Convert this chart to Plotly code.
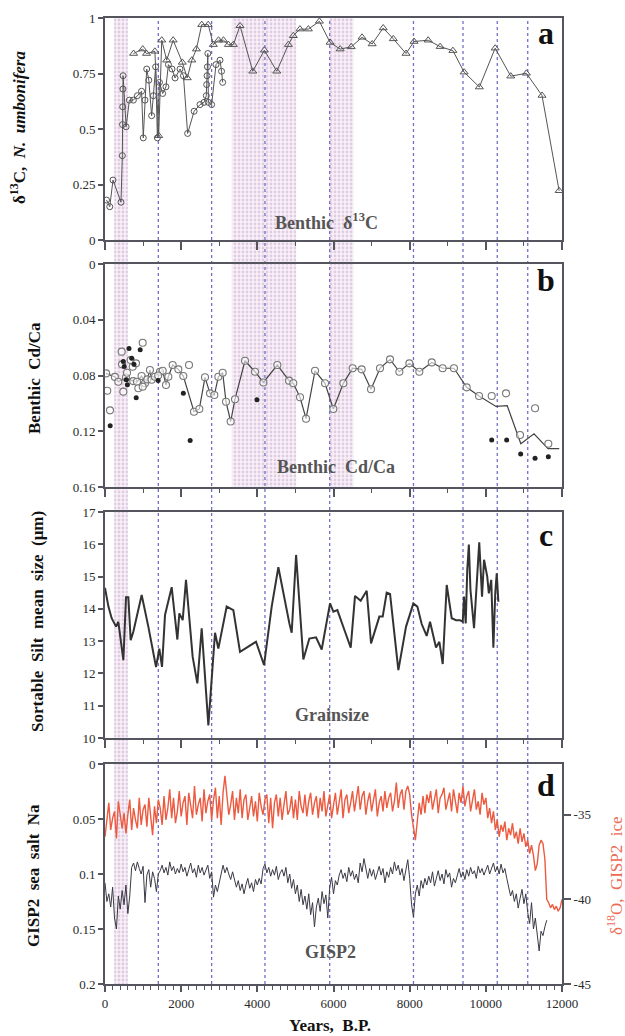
import plotly.graph_objects as go

FONT = "Liberation Serif"

# ---------------- data ----------------
# Panel a: benthic d13C (circles series and triangles series)
c13_circ_years = [40, 125, 210, 420, 455, 460, 465, 470, 475, 555, 640, 745, 850, 960, 1005,
                  1050, 1095, 1150, 1225, 1270, 1330, 1375, 1430, 1515, 1600, 1665, 1760, 1840,
                  1970, 2060, 2170, 2340, 2495, 2600, 2660, 2670, 2680, 2690, 2700, 2715, 2800,
                  2915, 3020, 3060, 3090]
c13_circ_vals = [0.18, 0.15, 0.27, 0.17, 0.38, 0.52, 0.60, 0.68, 0.74, 0.51, 0.63, 0.63, 0.65,
                 0.67, 0.46, 0.63, 0.77, 0.72, 0.56, 0.65, 0.78, 0.46, 0.71, 0.66, 0.69, 0.79,
                 0.77, 0.73, 0.77, 0.74, 0.48, 0.58, 0.61, 0.62, 0.65, 0.70, 0.74, 0.78, 0.84,
                 0.62, 0.61, 0.79, 0.81, 0.76, 0.71]
c13_tri_years = [750, 990, 1090, 1310, 1410, 1490, 1620, 1790, 2030, 2160, 2280, 2400, 2540,
                 2710, 2845, 2980, 3110, 3240, 3370, 3545, 3880, 4185, 4510, 4815, 4945, 5120,
                 5340, 5630, 5910, 6175, 6465, 6750, 7015, 7305, 7570, 7905, 8115, 8485, 8800,
                 9135, 9430, 9830, 10245, 10655, 11065, 11475, 11925]
c13_tri_vals = [0.84, 0.86, 0.84, 0.85, 0.47, 0.90, 0.81, 0.90, 0.80, 0.73, 0.81, 0.86, 0.97,
                0.97, 0.88, 0.90, 0.90, 0.88, 0.88, 0.965, 0.76, 0.855, 0.76, 0.88, 0.92, 0.95,
                0.95, 0.985, 0.89, 0.86, 0.87, 0.913, 0.883, 0.955, 0.906, 0.84, 0.894, 0.90,
                0.871, 0.853, 0.756, 0.689, 0.864, 0.738, 0.751, 0.651, 0.222]

# Panel b: benthic Cd/Ca
cd_line_years = [30, 260, 350, 550, 740, 840, 960, 1050, 1110, 1180, 1225, 1313, 1444, 1514,
                 1602, 1663, 1777, 1926, 2057, 2337, 2477, 2626, 2757, 2871, 2976, 3090, 3177,
                 3300, 3414, 3676, 3939, 4158, 4525, 4832, 4945, 5121, 5279, 5515, 5777, 5996,
                 6259, 6504, 6740, 6985, 7221, 7484, 7729, 7992, 8254, 8580, 8866, 9163, 9497,
                 9821, 10268, 10562, 10919, 11265, 11633, 11927]
cd_line_vals = [0.0785, 0.081, 0.0845, 0.0814, 0.084, 0.0845, 0.0804, 0.0856, 0.0828, 0.076,
                0.083, 0.0809, 0.0773, 0.0766, 0.0868, 0.0809, 0.0725, 0.0756, 0.0804, 0.106,
                0.104, 0.0813, 0.0928, 0.094, 0.0809, 0.078, 0.0988, 0.113, 0.097, 0.0694,
                0.0773, 0.085, 0.0725, 0.0837, 0.0856, 0.0956, 0.111, 0.0766, 0.0856, 0.104,
                0.0856, 0.0748, 0.0756, 0.0899, 0.0748, 0.0684, 0.0773, 0.0713, 0.0773, 0.0706,
                0.0748, 0.0748, 0.0885, 0.0947, 0.1022, 0.1017, 0.129, 0.1218, 0.1325, 0.1325]
cd_open_years = [60, 131, 438, 446, 481, 578, 674, 727, 814, 875, 990, 990, 1396, 2206,
                 10154, 10530, 10898, 11293, 11641]
cd_open_vals = [0.0909, 0.105, 0.0629, 0.072, 0.0916, 0.078, 0.0689, 0.0737, 0.0713, 0.0892,
                0.0565, 0.088, 0.080, 0.0725, 0.0947, 0.0928, 0.1227, 0.1035, 0.129]
cd_filled_years = [136, 480, 504, 560, 588, 630, 700, 760, 819, 924, 1396, 2057, 2236, 3990,
                   10154, 10547, 10915, 11292, 11641]
cd_filled_vals = [0.116, 0.070, 0.0735, 0.083, 0.0867, 0.0607, 0.0677, 0.072, 0.096, 0.0616,
                  0.0836, 0.0928, 0.1266, 0.0974, 0.1263, 0.1263, 0.1363, 0.1394, 0.1383]

# Panel c: sortable silt grain size
gs_years = [0, 90, 175, 290, 350, 482, 552, 613, 674, 744, 963, 1138, 1340, 1427, 1497, 1576,
            1751, 1900, 1952, 2040, 2127, 2302, 2425, 2539, 2714, 2889, 2976, 3195, 3370, 3545,
            3965, 4176, 4377, 4552, 4841, 4902, 5018, 5208, 5366, 5541, 5690, 5909, 5997, 6102,
            6303, 6452, 6565, 6714, 6872, 6986, 7204, 7292, 7397, 7485, 7703, 7905, 8097, 8202,
            8316, 8447, 8535, 8692, 8780, 8868, 8973, 9104, 9218, 9323, 9393, 9428, 9472, 9512,
            9554, 9596, 9690, 9827, 9900, 9953, 10037, 10079, 10142, 10198, 10247, 10286, 10329]
gs_vals = [14.65, 14.07, 13.71, 13.45, 13.6, 12.41, 14.36, 14.36, 13.03, 13.29, 14.43, 13.45,
           12.2, 12.77, 12.2, 13.81, 14.67, 13.05, 13.86, 13.65, 14.9, 12.51, 11.69, 13.4, 10.39,
           13.26, 12.77, 14.07, 13.96, 12.67, 12.98, 12.26, 14.07, 15.29, 13.55, 13.26, 15.67,
           12.43, 13.08, 13.12, 12.74, 14.17, 13.91, 13.96, 13.29, 12.8, 14.4, 14.25, 14.56,
           12.93, 13.76, 13.76, 14.5, 14.46, 12.1, 13.45, 14.17, 14.07, 13.53, 13.16, 13.6, 12.8,
           12.98, 12.29, 14.74, 13.71, 13.65, 13.65, 13.6, 14.38, 13.55, 15.2, 15.99, 14.59, 13.4,
           16.06, 14.38, 15.52, 15.0, 14.48, 14.9, 12.8, 14.48, 15.1, 14.22]

# Panel d: GISP2 sea salt Na (left axis) and GISP2 d18O (right axis), 50-yr sampling
na_years = list(range(0, 11601, 50))
na_vals = [
    0.108, 0.125, 0.118, 0.130, 0.112, 0.140, 0.150, 0.120, 0.132, 0.115,
    0.128, 0.110, 0.136, 0.120, 0.094, 0.090, 0.097, 0.089, 0.095, 0.100,
    0.093, 0.126, 0.101, 0.096, 0.112, 0.098, 0.104, 0.116, 0.100, 0.097,
    0.092, 0.099, 0.094, 0.101, 0.089, 0.097, 0.093, 0.100, 0.095, 0.099,
    0.091, 0.098, 0.094, 0.102, 0.096, 0.090, 0.099, 0.095, 0.103, 0.092,
    0.099, 0.094, 0.101, 0.096, 0.092, 0.104, 0.098, 0.121, 0.110, 0.116,
    0.108, 0.097, 0.092, 0.099, 0.094, 0.100, 0.105, 0.098, 0.104, 0.112,
    0.106, 0.115, 0.109, 0.118, 0.110, 0.104, 0.113, 0.108, 0.116, 0.105,
    0.110, 0.104, 0.109, 0.095, 0.091, 0.099, 0.094, 0.102, 0.096, 0.101,
    0.093, 0.105, 0.099, 0.096, 0.102, 0.094, 0.108, 0.100, 0.113, 0.105,
    0.118, 0.110, 0.125, 0.114, 0.128, 0.120, 0.132, 0.118, 0.137, 0.126,
    0.148, 0.130, 0.122, 0.134, 0.116, 0.127, 0.119, 0.140, 0.112, 0.103,
    0.118, 0.106, 0.110, 0.101, 0.096, 0.104, 0.099, 0.107, 0.094, 0.102,
    0.097, 0.105, 0.100, 0.108, 0.090, 0.098, 0.086, 0.097, 0.104, 0.095,
    0.102, 0.096, 0.105, 0.099, 0.093, 0.101, 0.095, 0.108, 0.098, 0.103,
    0.094, 0.100, 0.089, 0.097, 0.092, 0.101, 0.095, 0.106, 0.098, 0.087,
    0.104, 0.128, 0.139, 0.118, 0.110, 0.120, 0.106, 0.113, 0.104, 0.110,
    0.102, 0.108, 0.098, 0.111, 0.104, 0.097, 0.106, 0.100, 0.109, 0.096,
    0.103, 0.099, 0.112, 0.104, 0.108, 0.100, 0.095, 0.103, 0.098, 0.105,
    0.096, 0.102, 0.094, 0.100, 0.097, 0.104, 0.093, 0.099, 0.095, 0.101,
    0.097, 0.092, 0.100, 0.095, 0.090, 0.098, 0.093, 0.100, 0.091, 0.099,
    0.095, 0.104, 0.112, 0.120, 0.115, 0.125, 0.118, 0.131, 0.122, 0.114,
    0.127, 0.118, 0.135, 0.145, 0.126, 0.150, 0.140, 0.158, 0.170, 0.152,
    0.156, 0.148, 0.142]
d18o_years = list(range(0, 12001, 50))
d18o_vals = [
    -36.3, -35.1, -34.3, -35.9, -35.2, -34.8, -36.4, -34.2, -35.0, -35.8,
    -34.9, -36.1, -35.0, -34.1, -35.9, -34.6, -35.3, -35.8, -34.0, -35.6,
    -34.7, -34.4, -35.7, -34.0, -35.1, -36.2, -34.5, -35.5, -34.1, -34.6,
    -35.6, -33.9, -35.3, -34.6, -33.5, -35.2, -34.0, -35.5, -34.8, -33.6,
    -35.1, -34.3, -33.9, -35.6, -33.7, -34.6, -35.2, -33.3, -35.0, -34.4,
    -34.0, -35.4, -33.5, -34.9, -34.2, -33.8, -35.3, -34.1, -33.4, -35.2,
    -33.9, -35.6, -33.7, -32.7, -34.0, -35.0, -34.4, -33.6, -35.3, -34.0,
    -34.9, -33.5, -35.2, -34.1, -33.8, -35.3, -34.6, -33.9, -35.1, -34.2,
    -35.4, -33.7, -34.5, -35.0, -34.1, -33.8, -35.5, -34.0, -35.8, -34.3,
    -33.8, -35.1, -34.0, -35.3, -34.4, -33.6, -35.0, -34.7, -33.9, -35.2,
    -34.1, -35.3, -33.6, -34.5, -34.9, -33.8, -35.1, -34.2, -33.7, -35.0,
    -34.3, -33.9, -35.2, -34.0, -34.8, -33.6, -35.1, -34.4, -33.8, -35.2,
    -34.5, -33.7, -35.0, -34.2, -33.5, -35.2, -34.1, -33.8, -34.9, -34.3,
    -33.6, -34.8, -34.1, -33.3, -34.7, -33.9, -33.6, -35.0, -34.2, -33.7,
    -34.8, -34.0, -33.5, -35.1, -34.3, -33.9, -34.8, -33.6, -34.6, -34.0,
    -33.7, -34.8, -34.2, -33.1, -34.6, -33.8, -33.5, -34.7, -33.6, -33.3,
    -33.8, -35.0, -35.9, -36.5, -35.4, -34.3, -35.0, -33.9, -34.9, -33.8,
    -34.3, -33.6, -34.7, -34.1, -33.5, -34.9, -34.0, -33.8, -33.4, -34.7,
    -34.1, -33.7, -34.8, -33.5, -34.2, -34.9, -33.7, -34.3, -33.3, -34.5,
    -33.9, -33.6, -34.8, -34.0, -33.5, -34.7, -34.2, -35.0, -33.7, -34.4,
    -34.0, -35.2, -34.6, -35.5, -34.8, -35.9, -35.3, -36.3, -35.6, -36.0,
    -35.4, -36.5, -35.8, -36.2, -35.5, -36.4, -36.0, -36.7, -35.8, -36.6,
    -36.1, -36.9, -36.5, -37.3, -36.8, -37.4, -38.3, -37.9, -36.8, -36.5,
    -36.7, -37.6, -40.0, -40.2, -40.5, -40.3, -40.6, -40.4, -40.7, -40.5,
    -40.0]

# Bond events (dotted vertical lines) and shaded intervals
bond_events = [1400, 2800, 4200, 5900, 8100, 9400, 10300, 11100]
shade_full = [(240, 600)]                     # spans all panels
shade_ab = [(3330, 5020), (5880, 6530)]        # spans panels a and b

x_tick_labels = ["0", "2000", "4000", "6000", "8000", "10000", "12000"]

# ---------------- figure ----------------
W, H = 625, 1036
ML, MR, MT, MB = 105, 63, 18, 52
plot_h = H - MT - MB
plot_w = W - ML - MR


def py(p):
    return (H - MB - p) / plot_h


def px(p):
    return (p - ML) / plot_w


dom_a = [py(240), 1.0]
dom_b = [py(487), py(264)]
dom_c = [py(738), py(512)]
dom_d = [0.0, py(764)]

AX = "#555560"
TXT = "#2a2a2a"

fig = go.Figure()

# overlay subplot (x, y) for shading and vertical event lines
sh_x, sh_w, sh_base, sh_h = [], [], [], []
for a, b in shade_full:
    sh_x.append((a + b) / 2); sh_w.append(b - a); sh_base.append(0.0); sh_h.append(1.0)
for a, b in shade_ab:
    sh_x.append((a + b) / 2); sh_w.append(b - a); sh_base.append(dom_b[0]); sh_h.append(1.0 - dom_b[0])
fig.add_trace(go.Bar(
    x=sh_x, y=sh_h, base=sh_base, width=sh_w, xaxis="x", yaxis="y",
    marker=dict(color="rgba(230,215,232,0.35)", line=dict(width=0),
                pattern=dict(shape=".", fgcolor="#c9a6cf", size=4, solidity=0.4,
                             fillmode="overlay")),
    hoverinfo="skip", showlegend=False))

ev_x, ev_y = [], []
for e in bond_events:
    ev_x += [e, e, None]
    ev_y += [0, 1, None]
fig.add_trace(go.Scatter(x=ev_x, y=ev_y, mode="lines", xaxis="x", yaxis="y",
                         line=dict(color="#7070c8", width=1.3, dash="dot"),
                         hoverinfo="skip", showlegend=False))

# Panel a
fig.add_trace(go.Scatter(x=c13_circ_years, y=c13_circ_vals, mode="lines+markers",
                         xaxis="x2", yaxis="y2",
                         line=dict(color="#555", width=1),
                         marker=dict(symbol="circle-open", size=6, color="#555",
                                     line=dict(width=1)),
                         showlegend=False))
fig.add_trace(go.Scatter(x=c13_tri_years, y=c13_tri_vals, mode="lines+markers",
                         xaxis="x2", yaxis="y2",
                         line=dict(color="#555", width=1),
                         marker=dict(symbol="triangle-up-open", size=7, color="#555",
                                     line=dict(width=1)),
                         showlegend=False))

# Panel b
fig.add_trace(go.Scatter(x=cd_line_years, y=cd_line_vals, mode="lines",
                         xaxis="x3", yaxis="y3", line=dict(color="#444", width=1.2),
                         showlegend=False))
circ_x = [yv for yv in cd_line_years if yv < 10000] + cd_open_years
circ_y = [v for yv, v in zip(cd_line_years, cd_line_vals) if yv < 10000] + cd_open_vals
fig.add_trace(go.Scatter(x=circ_x, y=circ_y, mode="markers", xaxis="x3", yaxis="y3",
                         marker=dict(symbol="circle", size=7, color="rgba(255,255,255,0.6)",
                                     line=dict(color="#777", width=1.1)),
                         showlegend=False))
fig.add_trace(go.Scatter(x=cd_filled_years, y=cd_filled_vals, mode="markers",
                         xaxis="x3", yaxis="y3",
                         marker=dict(symbol="circle", size=5, color="#222"),
                         showlegend=False))

# Panel c
fig.add_trace(go.Scatter(x=gs_years, y=gs_vals, mode="lines", xaxis="x4", yaxis="y4",
                         line=dict(color="#333", width=2), showlegend=False))

# Panel d
fig.add_trace(go.Scatter(x=na_years, y=na_vals, mode="lines", xaxis="x5", yaxis="y5",
                         line=dict(color="#3a3a44", width=1), showlegend=False))
fig.add_trace(go.Scatter(x=d18o_years, y=d18o_vals, mode="lines", xaxis="x5", yaxis="y6",
                         line=dict(color="#ec5a40", width=1.4), showlegend=False))

tickfont = dict(family=FONT, size=13, color=TXT)


def xax(anchor, labels=False, minor_dt=1000, ticklen=8):
    return dict(domain=[0, 1], range=[0, 12000], anchor=anchor, showgrid=False,
                zeroline=False, showline=True, mirror=True, linecolor=AX, linewidth=2,
                ticks="outside", ticklen=ticklen, tickwidth=1.5, tickcolor=AX,
                tickvals=[0, 2000, 4000, 6000, 8000, 10000, 12000],
                ticktext=x_tick_labels, showticklabels=labels, tickfont=tickfont,
                minor=dict(dtick=minor_dt, tick0=0, ticks="outside", ticklen=4,
                           tickwidth=1.2, tickcolor=AX))


def yax(domain, rng, vals, texts, anchor):
    return dict(domain=domain, range=rng, anchor=anchor, showgrid=False, zeroline=False,
                showline=True, mirror=True, linecolor=AX, linewidth=2,
                ticks="outside", ticklen=5, tickwidth=1.5, tickcolor=AX,
                tickvals=vals, ticktext=texts, tickfont=tickfont)


fig.update_layout(
    width=W, height=H, margin=dict(l=ML, r=MR, t=MT, b=MB),
    paper_bgcolor="white", plot_bgcolor="rgba(0,0,0,0)",
    font=dict(family=FONT, color=TXT), barmode="overlay",
    xaxis=dict(domain=[0, 1], range=[0, 12000], visible=False, anchor="y"),
    yaxis=dict(domain=[0, 1], range=[0, 1], visible=False, anchor="x"),
    xaxis2=xax("y2"), xaxis3=xax("y3"), xaxis4=xax("y4"),
    xaxis5=xax("y5", labels=True, minor_dt=200, ticklen=6),
    yaxis2=yax(dom_a, [0, 1], [0, 0.25, 0.5, 0.75, 1], ["0", "0.25", "0.5", "0.75", "1"], "x2"),
    yaxis3=yax(dom_b, [0.16, 0], [0, 0.04, 0.08, 0.12, 0.16],
               ["0", "0.04", "0.08", "0.12", "0.16"], "x3"),
    yaxis4=yax(dom_c, [10, 17], list(range(10, 18)), [str(v) for v in range(10, 18)], "x4"),
    yaxis5=yax(dom_d, [0.2, 0], [0, 0.05, 0.1, 0.15, 0.2],
               ["0", "0.05", "0.1", "0.15", "0.2"], "x5"),
    yaxis6=dict(overlaying="y5", side="right", anchor="x5", range=[-45, -32],
                showgrid=False, zeroline=False, showline=False,
                ticks="outside", ticklen=8, tickwidth=1.5, tickcolor=AX,
                tickvals=[-35, -40, -45], ticktext=["-35", "-40", "-45"], tickfont=tickfont),
)

ann = []
S = "\u00a0"
ytitle = dict(family=FONT, size=17, color="#111")
ann.append(dict(text=f"<b>δ<sup>13</sup>C,{S}{S}<i>N.{S}{S}umbonifera</i></b>",
                x=px(18), y=py(128), textangle=-90, font=ytitle))
ann.append(dict(text=f"<b>Benthic{S}{S}Cd/Ca</b>", x=px(34), y=py(378), textangle=-90,
                font=ytitle))
ann.append(dict(text=f"<b>Sortable{S}{S}Silt{S}{S}mean{S}{S}size{S}{S}(μm)</b>", x=px(38),
                y=py(622), textangle=-90, font=ytitle))
ann.append(dict(text=f"<b>GISP2{S}{S}sea{S}{S}salt{S}{S}Na</b>", x=px(33), y=py(876),
                textangle=-90, font=ytitle))
ann.append(dict(text=f"δ<sup>18</sup>O,{S}{S}GISP2{S}{S}ice", x=px(615), y=py(876),
                textangle=-90, font=dict(family=FONT, size=17, color="#ec6a55")))
ann.append(dict(text=f"<b>Years,{S}{S}B.P.</b>", x=px(330), y=py(1025),
                font=dict(family=FONT, size=17, color="#111")))
lab = dict(family=FONT, size=18, color="#555")
ann.append(dict(text=f"<b>Benthic{S}{S}δ<sup>13</sup>C</b>", x=px(326), y=py(222), font=lab))
ann.append(dict(text=f"<b>Benthic{S}{S}Cd/Ca</b>", x=px(336), y=py(467), font=lab))
ann.append(dict(text="<b>Grainsize</b>", x=px(332), y=py(715), font=lab))
ann.append(dict(text="<b>GISP2</b>", x=px(330), y=py(952), font=lab))
letter = dict(family=FONT, size=32, color="#111")
for t, yy in [("a", 33), ("b", 280), ("c", 535), ("d", 785)]:
    ann.append(dict(text=f"<b>{t}</b>", x=px(546), y=py(yy), font=letter))

for a in ann:
    a.update(xref="paper", yref="paper", showarrow=False, xanchor="center", yanchor="middle")
fig.update_layout(annotations=ann)

fig.write_html("out.html", config={"displayModeBar": False},
               post_script="document.body.style.margin='0';document.body.style.overflow='hidden';")
